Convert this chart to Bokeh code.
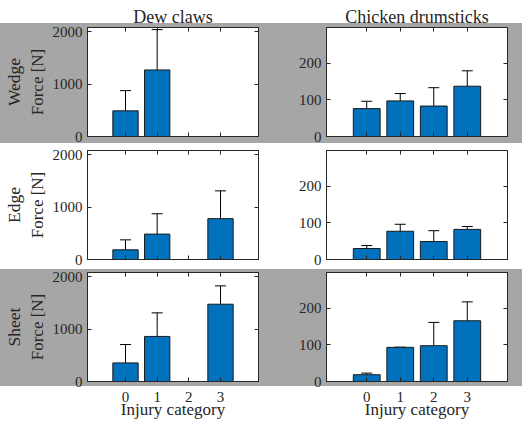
from bokeh.plotting import figure
from bokeh.layouts import column, row
from bokeh.models import (Range1d, FixedTicker, LinearAxis, Title, Whisker,
                          ColumnDataSource, TeeHead)
from bokeh.embed import file_html
from bokeh.resources import INLINE

# ---------------- data ----------------
categories = [0, 1, 2, 3]
tick_labels = ["0", "1", "2", "3"]
col_titles = ["Dew claws", "Chicken drumsticks"]
row_names = ["Wedge", "Edge", "Sheet"]
y_label = "Force [N]"
x_label = "Injury category"

dew_wedge_mean = [490, 1270, 0, 0]
dew_wedge_sd = [385, 770, 0, 0]
dew_edge_mean = [185, 485, 0, 780]
dew_edge_sd = [190, 388, 0, 530]
dew_sheet_mean = [355, 860, 0, 1475]
dew_sheet_sd = [350, 450, 0, 350]

chk_wedge_mean = [76, 97, 83, 137]
chk_wedge_sd = [20, 20, 50, 42]
chk_edge_mean = [30, 77, 49, 82]
chk_edge_sd = [8, 19, 29.5, 8]
chk_sheet_mean = [18.5, 93, 97.5, 165.5]
chk_sheet_sd = [4.3, 0.5, 63.5, 51.5]

dew_yticks = [0, 1000, 2000]
chk_yticks = [0, 100, 200]
dew_ymax = 2080
chk_ymax = 297

# ---------------- style ----------------
FONT = "Liberation Serif"
TXT = "#262626"
BAR = "#0072BD"
GRAY = "#a6a6a6"

table = [
    [(dew_wedge_mean, dew_wedge_sd), (chk_wedge_mean, chk_wedge_sd)],
    [(dew_edge_mean, dew_edge_sd), (chk_edge_mean, chk_edge_sd)],
    [(dew_sheet_mean, dew_sheet_sd), (chk_sheet_mean, chk_sheet_sd)],
]

TOPS = [27, 7, 6]
BOTTOMS = [7, 7, 40]
FH = 109


def style_hidden_axis(ax, ticks):
    ax.ticker = FixedTicker(ticks=ticks)
    ax.major_tick_in = 4
    ax.major_tick_out = 0
    ax.minor_tick_line_color = None
    ax.major_label_overrides = {t: "" for t in ticks}
    ax.major_label_text_font_size = "0px"
    ax.major_label_standoff = 0
    ax.axis_line_color = TXT
    ax.major_tick_line_color = TXT


def make_fig(ri, ci):
    means, sds = table[ri][ci]
    left = ci == 0
    ymax = dew_ymax if left else chk_ymax
    yticks = dew_yticks if left else chk_yticks
    fw = 171 if left else 181
    p = figure(frame_width=fw, frame_height=FH,
               x_range=Range1d(-1.2, 4.2), y_range=Range1d(0, ymax),
               output_backend="svg", toolbar_location=None,
               min_border_left=87 if left else 64,
               min_border_right=4 if left else 15,
               min_border_top=TOPS[ri],
               min_border_bottom=BOTTOMS[ri],
               border_fill_alpha=0, background_fill_color="white",
               outline_line_color=TXT)
    p.grid.visible = False

    if ri == 0:
        p.title.text = col_titles[ci]
        p.title.align = "center"
        p.title.text_font = FONT
        p.title.text_font_size = "18px"
        p.title.text_font_style = "normal"
        p.title.text_color = TXT
        p.title.standoff = 1

    # bottom axis
    xa = p.xaxis[0]
    xa.ticker = FixedTicker(ticks=categories)
    xa.major_tick_in = 4
    xa.major_tick_out = 0
    xa.minor_tick_line_color = None
    xa.axis_line_color = TXT
    xa.major_tick_line_color = TXT
    if ri == 2:
        xa.major_label_overrides = {c: t for c, t in zip(categories, tick_labels)}
        xa.major_label_text_font = FONT
        xa.major_label_text_font_size = "15px"
        xa.major_label_text_color = TXT
        xa.major_label_standoff = 10
        xa.axis_label = x_label
        xa.axis_label_text_font = FONT
        xa.axis_label_text_font_size = "17px"
        xa.axis_label_text_font_style = "normal"
        xa.axis_label_text_color = TXT
        xa.axis_label_standoff = -5
    else:
        style_hidden_axis(xa, categories)

    # left axis
    ya = p.yaxis[0]
    ya.ticker = FixedTicker(ticks=yticks)
    ya.major_tick_in = 4
    ya.major_tick_out = 0
    ya.minor_tick_line_color = None
    ya.axis_line_color = TXT
    ya.major_tick_line_color = TXT
    ya.major_label_text_font = FONT
    ya.major_label_text_font_size = "15px"
    ya.major_label_text_color = TXT
    ya.major_label_standoff = 5
    if left:
        ya.axis_label = y_label
        ya.axis_label_text_font = FONT
        ya.axis_label_text_font_size = "17px"
        ya.axis_label_text_font_style = "normal"
        ya.axis_label_text_color = TXT
        ya.axis_label_standoff = 3

    # top / right box axes
    top = LinearAxis()
    style_hidden_axis(top, categories)
    p.add_layout(top, "above")
    right = LinearAxis()
    style_hidden_axis(right, yticks)
    p.add_layout(right, "right")

    # row title on the left
    if left:
        p.add_layout(Title(text=row_names[ri], align="center", text_font=FONT,
                           text_font_size="17.5px", text_font_style="normal",
                           text_color=TXT, standoff=1), "left")

    # bars
    p.vbar(x=categories, top=means, width=0.8, fill_color=BAR,
           line_color="#1a1a1a", line_width=1)

    # error bars
    xs = [c for c, s in zip(categories, sds) if s > 0]
    up = [m + s for m, s in zip(means, sds) if s > 0]
    lo = [m - s for m, s in zip(means, sds) if s > 0]
    src = ColumnDataSource(dict(x=xs, upper=up, lower=lo))
    w = Whisker(base="x", upper="upper", lower="lower", source=src,
                line_color="black", line_width=1,
                upper_head=TeeHead(size=11, line_color="black", line_width=1),
                lower_head=TeeHead(size=11, line_color="black", line_width=1))
    p.add_layout(w)
    return p


figs = [[make_fig(r, c) for c in range(2)] for r in range(3)]

grad = ("linear-gradient(to bottom, "
        f"#ffffff 0px, #ffffff 23px, {GRAY} 23px, {GRAY} 143px, "
        f"#ffffff 143px, #ffffff 269px, {GRAY} 269px, {GRAY} 386px, "
        "#ffffff 386px, #ffffff 100%)")

layout = column(*[row(*fr) for fr in figs], styles={"background": grad})

open("out.html", "w").write(file_html(layout, INLINE))
